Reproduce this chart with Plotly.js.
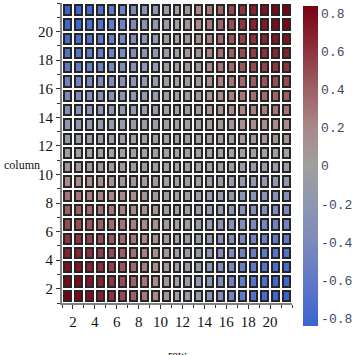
<!DOCTYPE html>
<html>
<head>
<meta charset="utf-8">
<script src="https://cdn.plot.ly/plotly-3.0.1.min.js"></script>
<style>html,body{margin:0;padding:0;background:#fff;}#chart{width:355px;height:355px;}</style>
</head>
<body>
<div id="chart"></div>
<script>
// x axis ("row") cell indices and y axis ("column") cell indices
var rowIdx = [1,2,3,4,5,6,7,8,9,10,11,12,13,14,15,16,17,18,19,20,21];
var colIdx = [1,2,3,4,5,6,7,8,9,10,11,12,13,14,15,16,17,18,19,20,21];

// values: one array per column (y), 21 values along row (x)
var col01 = [0.84,0.81,0.76,0.69,0.60,0.50,0.40,0.29,0.18,0.09,0,-0.09,-0.18,-0.29,-0.40,-0.50,-0.60,-0.69,-0.76,-0.81,-0.84];
var col02 = [0.81,0.79,0.73,0.67,0.59,0.49,0.39,0.29,0.18,0.09,0,-0.09,-0.18,-0.29,-0.39,-0.49,-0.59,-0.67,-0.73,-0.79,-0.81];
var col03 = [0.76,0.73,0.68,0.62,0.54,0.45,0.36,0.26,0.17,0.08,0,-0.08,-0.17,-0.26,-0.36,-0.45,-0.54,-0.62,-0.68,-0.73,-0.76];
var col04 = [0.69,0.67,0.62,0.56,0.50,0.41,0.33,0.24,0.15,0.08,0,-0.08,-0.15,-0.24,-0.33,-0.41,-0.50,-0.56,-0.62,-0.67,-0.69];
var col05 = [0.60,0.59,0.54,0.50,0.44,0.36,0.29,0.21,0.13,0.07,0,-0.07,-0.13,-0.21,-0.29,-0.36,-0.44,-0.50,-0.54,-0.59,-0.60];
var col06 = [0.50,0.49,0.45,0.41,0.36,0.30,0.24,0.18,0.11,0.06,0,-0.06,-0.11,-0.18,-0.24,-0.30,-0.36,-0.41,-0.45,-0.49,-0.50];
var col07 = [0.40,0.39,0.36,0.33,0.29,0.24,0.19,0.14,0.09,0.04,0,-0.04,-0.09,-0.14,-0.19,-0.24,-0.29,-0.33,-0.36,-0.39,-0.40];
var col08 = [0.29,0.29,0.26,0.24,0.21,0.18,0.14,0.10,0.06,0.03,0,-0.03,-0.06,-0.10,-0.14,-0.18,-0.21,-0.24,-0.26,-0.29,-0.29];
var col09 = [0.18,0.18,0.17,0.15,0.13,0.11,0.09,0.06,0.04,0.02,0,-0.02,-0.04,-0.06,-0.09,-0.11,-0.13,-0.15,-0.17,-0.18,-0.18];
var col10 = [0.09,0.09,0.08,0.08,0.07,0.06,0.04,0.03,0.02,0.01,0,-0.01,-0.02,-0.03,-0.04,-0.06,-0.07,-0.08,-0.08,-0.09,-0.09];
var col11 = [0,0,0,0,0,0,0,0,0,0,0,0,0,0,0,0,0,0,0,0,0];
var col12 = [-0.09,-0.09,-0.08,-0.08,-0.07,-0.06,-0.04,-0.03,-0.02,-0.01,0,0.01,0.02,0.03,0.04,0.06,0.07,0.08,0.08,0.09,0.09];
var col13 = [-0.18,-0.18,-0.17,-0.15,-0.13,-0.11,-0.09,-0.06,-0.04,-0.02,0,0.02,0.04,0.06,0.09,0.11,0.13,0.15,0.17,0.18,0.18];
var col14 = [-0.29,-0.29,-0.26,-0.24,-0.21,-0.18,-0.14,-0.10,-0.06,-0.03,0,0.03,0.06,0.10,0.14,0.18,0.21,0.24,0.26,0.29,0.29];
var col15 = [-0.40,-0.39,-0.36,-0.33,-0.29,-0.24,-0.19,-0.14,-0.09,-0.04,0,0.04,0.09,0.14,0.19,0.24,0.29,0.33,0.36,0.39,0.40];
var col16 = [-0.50,-0.49,-0.45,-0.41,-0.36,-0.30,-0.24,-0.18,-0.11,-0.06,0,0.06,0.11,0.18,0.24,0.30,0.36,0.41,0.45,0.49,0.50];
var col17 = [-0.60,-0.59,-0.54,-0.50,-0.44,-0.36,-0.29,-0.21,-0.13,-0.07,0,0.07,0.13,0.21,0.29,0.36,0.44,0.50,0.54,0.59,0.60];
var col18 = [-0.69,-0.67,-0.62,-0.56,-0.50,-0.41,-0.33,-0.24,-0.15,-0.08,0,0.08,0.15,0.24,0.33,0.41,0.50,0.56,0.62,0.67,0.69];
var col19 = [-0.76,-0.73,-0.68,-0.62,-0.54,-0.45,-0.36,-0.26,-0.17,-0.08,0,0.08,0.17,0.26,0.36,0.45,0.54,0.62,0.68,0.73,0.76];
var col20 = [-0.81,-0.79,-0.73,-0.67,-0.59,-0.49,-0.39,-0.29,-0.18,-0.09,0,0.09,0.18,0.29,0.39,0.49,0.59,0.67,0.73,0.79,0.81];
var col21 = [-0.84,-0.81,-0.76,-0.69,-0.60,-0.50,-0.40,-0.29,-0.18,-0.09,0,0.09,0.18,0.29,0.40,0.50,0.60,0.69,0.76,0.81,0.84];

var axisTicks = [2,4,6,8,10,12,14,16,18,20];
var cbTickVals = [-0.8,-0.6,-0.4,-0.2,0,0.2,0.4,0.6,0.8];
var cbTickText = ['-0.8','-0.6','-0.4','-0.2','0','0.2','0.4','0.6','0.8'];

var zRows = [col01,col02,col03,col04,col05,col06,col07,col08,col09,col10,col11,
             col12,col13,col14,col15,col16,col17,col18,col19,col20,col21];
var zBorder = zRows.map(function(r){ return r.map(function(){ return 1; }); });
// cells span [i, i+1]
var xPos = rowIdx.map(function(v){ return v + 0.5; });
var yPos = colIdx.map(function(v){ return v + 0.5; });

var scale = [
  [0.00, 'rgb(58,100,208)'],
  [0.12, 'rgb(92,118,200)'],
  [0.26, 'rgb(124,138,188)'],
  [0.38, 'rgb(142,150,176)'],
  [0.50, 'rgb(160,160,160)'],
  [0.62, 'rgb(170,136,136)'],
  [0.74, 'rgb(157,96,101)'],
  [0.86, 'rgb(142,50,62)'],
  [1.00, 'rgb(122,0,18)']
];

var border = {
  type: 'heatmap', x: xPos, y: yPos, z: zBorder,
  colorscale: [[0,'#262626'],[1,'#262626']], showscale: false,
  xgap: 2, ygap: 2, hoverinfo: 'skip'
};
var cells = {
  type: 'heatmap', x: xPos, y: yPos, z: zRows,
  colorscale: scale, zmin: -0.84, zmax: 0.84,
  xgap: 6, ygap: 6,
  colorbar: {
    x: 1.048, xanchor: 'left', xpad: 0,
    y: 0.457, yanchor: 'middle', ypad: 0,
    len: 320, lenmode: 'pixels',
    thickness: 15, thicknessmode: 'pixels',
    outlinewidth: 0, ticks: '',
    tickmode: 'array', tickvals: cbTickVals, ticktext: cbTickText,
    tickfont: {family: 'Liberation Mono', size: 13, color: '#3a4a5f'}
  }
};

var tickFont = {family: 'Liberation Serif', size: 15, color: '#111'};
function axis(extra) {
  var a = {
    range: [1, 22], tickmode: 'array', tickvals: axisTicks,
    ticks: 'outside', ticklen: 4, tickwidth: 1, tickcolor: '#333',
    showline: true, linecolor: '#808080', linewidth: 2,
    showgrid: false, zeroline: false, tickfont: tickFont,
    minor: {tickmode: 'linear', tick0: 0, dtick: 1, ticks: 'outside', ticklen: 3, tickcolor: '#333', showgrid: false}
  };
  for (var k in extra) a[k] = extra[k];
  return a;
}

var titleFont = {family: 'Liberation Serif', size: 12, color: '#111'};
var layout = {
  width: 355, height: 355,
  margin: {l: 62, r: 63, t: 3, b: 52, pad: 0},
  paper_bgcolor: '#fff', plot_bgcolor: '#fff',
  showlegend: false,
  xaxis: axis({}),
  yaxis: axis({}),
  annotations: [{
    text: 'column', xref: 'paper', yref: 'paper', x: -0.262, y: 0.46,
    xanchor: 'left', yanchor: 'middle', showarrow: false, font: titleFont
  }, {
    text: 'row', xref: 'paper', yref: 'paper', x: 0.5, y: -0.143,
    xanchor: 'center', yanchor: 'top', showarrow: false, font: titleFont
  }]
};

Plotly.newPlot('chart', [border, cells], layout, {staticPlot: true, displayModeBar: false});
</script>
</body>
</html>
